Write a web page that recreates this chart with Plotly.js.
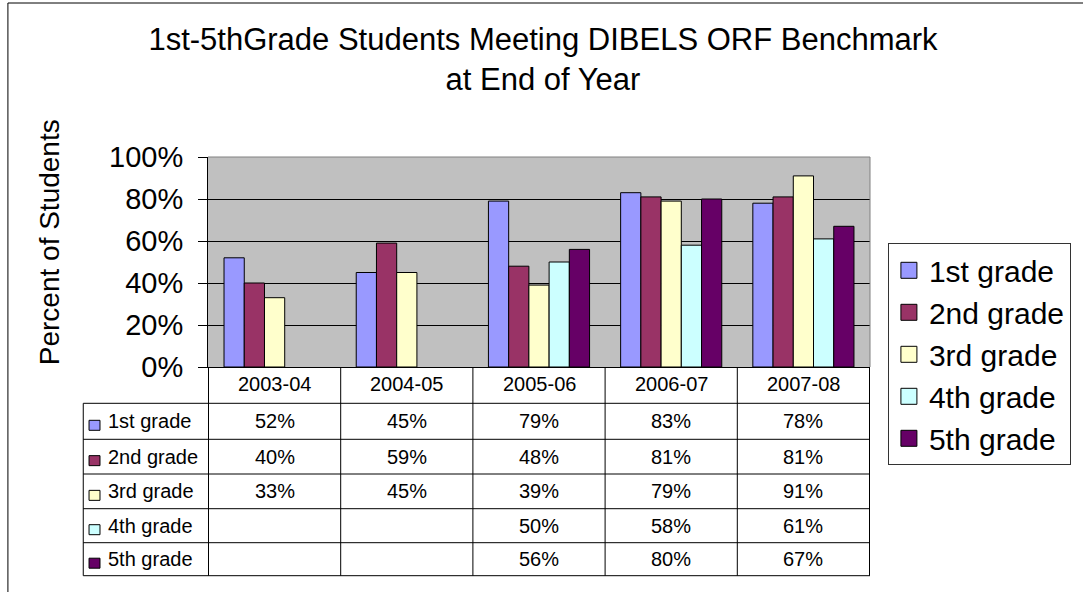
<!DOCTYPE html>
<html>
<head>
<meta charset="utf-8">
<script src="https://cdn.plot.ly/plotly-3.0.1.min.js"></script>
<style>html,body{margin:0;padding:0;background:#fff;}#chart{width:1083px;height:592px;}</style>
</head>
<body>
<div id="chart"></div>
<script>
// ---- data ----
const categories = ["2003-04", "2004-05", "2005-06", "2006-07", "2007-08"];
const seriesNames = ["1st grade", "2nd grade", "3rd grade", "4th grade", "5th grade"];
const grade1 = [0.52, 0.45, 0.79, 0.83, 0.78];
const grade2 = [0.40, 0.59, 0.48, 0.81, 0.81];
const grade3 = [0.33, 0.45, 0.39, 0.79, 0.91];
const grade4 = [null, null, 0.50, 0.58, 0.61];
const grade5 = [null, null, 0.56, 0.80, 0.67];
const yTickVals = [0, 0.2, 0.4, 0.6, 0.8, 1.0];
const yTickText = ["0%", "20%", "40%", "60%", "80%", "100%"];
const titleText = "1st-5thGrade Students Meeting DIBELS ORF Benchmark<br>at End of Year";
const yTitleText = "Percent of Students";

// ---- styles / layout constants ----
const colors = ["#9999FF", "#993366", "#FFFFCC", "#CCFFFF", "#660066"];
const W = 1083, H = 592;
const L = 208, R = 873, T = 157, B = 367;
const px2x = p => (p - L) / (R - L);
const px2y = p => (B - p) / (B - T);
const FONT = "Arial, 'Liberation Sans', sans-serif";

const allSeries = [grade1, grade2, grade3, grade4, grade5];

const traces = allSeries.map((vals, i) => ({
  type: "bar",
  name: seriesNames[i],
  x: categories,
  y: vals,
  showlegend: false,
  marker: { color: colors[i], line: { color: "#000", width: 1 } },
  hoverinfo: "x+y+name"
}));
// legend entries (larger square swatches)
seriesNames.forEach((n, i) => {
  traces.push({
    type: "scatter", mode: "markers", name: n,
    x: [null], y: [null], legendgroup: "g" + i,
    marker: { symbol: "square", size: 16, color: colors[i], line: { color: "#000", width: 1 } },
    hoverinfo: "skip"
  });
});

// table geometry (pixel rows)
const headerTop = 367, headerBot = 403.3;
const rowLines = [403.3, 439.3, 474, 508.7, 542.7, 575.7];
const tableLeftPx = 82.7;

const shapes = [];
const annotations = [];

// outer chart border
shapes.push({ type: "rect", xref: "paper", yref: "paper",
  x0: px2x(7), x1: px2x(1100), y0: px2y(3), y1: px2y(620),
  line: { color: "#000", width: 1 }, fillcolor: "rgba(0,0,0,0)", layer: "below" });

// plot area gray border (top & right)
shapes.push({ type: "line", xref: "paper", yref: "paper", x0: 0, x1: 1, y0: 1, y1: 1,
  line: { color: "#808080", width: 1 }, layer: "above" });
shapes.push({ type: "line", xref: "paper", yref: "paper", x0: 1, x1: 1, y0: 0, y1: 1,
  line: { color: "#808080", width: 1 }, layer: "above" });

// table vertical lines for category columns
for (let k = 0; k <= categories.length; k++) {
  shapes.push({ type: "line", xref: "x", yref: "paper",
    x0: k - 0.5, x1: k - 0.5, y0: px2y(headerTop), y1: px2y(rowLines[rowLines.length - 1]),
    line: { color: "#000", width: 1 } });
}
// label column left line
shapes.push({ type: "line", xref: "paper", yref: "paper",
  x0: px2x(tableLeftPx), x1: px2x(tableLeftPx), y0: px2y(headerBot), y1: px2y(rowLines[rowLines.length - 1]),
  line: { color: "#000", width: 1 } });
// horizontal lines
rowLines.forEach(py => {
  shapes.push({ type: "line", xref: "paper", yref: "paper",
    x0: px2x(tableLeftPx), x1: 1, y0: px2y(py), y1: px2y(py),
    line: { color: "#000", width: 1 } });
});

// header labels
categories.forEach(c => {
  annotations.push({ xref: "x", yref: "paper", x: c, y: px2y((headerTop + headerBot) / 2 - 1),
    text: c, showarrow: false, xanchor: "center", yanchor: "middle",
    font: { family: FONT, size: 20, color: "#000" } });
});

// rows: key, label, values
allSeries.forEach((vals, i) => {
  const top = rowLines[i], bot = rowLines[i + 1];
  const cy = (top + bot) / 2;
  shapes.push({ type: "rect", xref: "paper", yref: "paper",
    x0: px2x(88.5), x1: px2x(99.5), y0: px2y(cy - 1), y1: px2y(cy + 9),
    fillcolor: colors[i], line: { color: "#000", width: 1 } });
  annotations.push({ xref: "paper", yref: "paper", x: px2x(106), y: px2y(cy),
    text: seriesNames[i], showarrow: false, xanchor: "left", yanchor: "middle",
    font: { family: FONT, size: 20, color: "#000" } });
  vals.forEach((v, j) => {
    if (v === null) return;
    annotations.push({ xref: "x", yref: "paper", x: categories[j], y: px2y(cy),
      text: Math.round(v * 100) + "%", showarrow: false, xanchor: "center", yanchor: "middle",
      font: { family: FONT, size: 20, color: "#000" } });
  });
});

// y-axis title
annotations.push({ xref: "paper", yref: "paper", x: px2x(48.5), y: 0,
  text: yTitleText, textangle: -90, showarrow: false, xanchor: "center", yanchor: "bottom",
  font: { family: FONT, size: 28, color: "#000" } });

const layout = {
  width: W, height: H,
  margin: { l: L, r: W - R, t: T, b: H - B, pad: 0 },
  paper_bgcolor: "#fff",
  plot_bgcolor: "#C0C0C0",
  font: { family: FONT, color: "#000" },
  title: { text: titleText, font: { family: FONT, size: 31, color: "#000" },
    x: 548 / W, xanchor: "center", xref: "paper", y: 1 - 50 / H, yanchor: "top", yref: "container" },
  barmode: "group",
  bargap: 0.235,
  bargroupgap: 0,
  showlegend: true,
  legend: {
    x: px2x(891), y: px2y(243.3), xanchor: "left", yanchor: "top",
    xref: "paper", yref: "paper",
    bordercolor: "#333", borderwidth: 1, bgcolor: "#fff",
    font: { family: FONT, size: 30, color: "#000" },
    tracegroupgap: 5, traceorder: "normal", itemsizing: "trace",
    maxheight: 400
  },
  xaxis: {
    type: "category", showticklabels: false, ticks: "",
    showline: true, linecolor: "#000", linewidth: 1, showgrid: false, zeroline: false,
    fixedrange: true
  },
  yaxis: {
    range: [0, 1], tickvals: yTickVals, ticktext: yTickText,
    ticks: "outside", ticklen: 9, tickcolor: "#000", tickwidth: 1,
    ticklabelstandoff: 9,
    showline: true, linecolor: "#000", linewidth: 1,
    showgrid: true, gridcolor: "#000", gridwidth: 1, zeroline: false,
    tickfont: { family: FONT, size: 29, color: "#000" },
    fixedrange: true
  },
  shapes: shapes,
  annotations: annotations
};

Plotly.newPlot("chart", traces, layout, { displayModeBar: false, staticPlot: true });
</script>
</body>
</html>
